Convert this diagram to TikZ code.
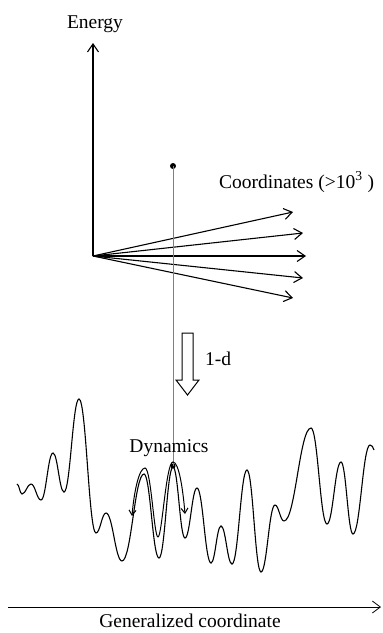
\documentclass[tikz,border=0pt]{standalone}
\usepackage{fontspec}
\setmainfont{Liberation Serif}
\usetikzlibrary{arrows.meta}
\begin{document}
\begin{tikzpicture}[x=1pt,y=-1pt,
  axisline/.style={line width=1.1pt,-{Straight Barb[length=8pt,width=11pt,line width=1.1pt]}},
  lbl/.style={inner sep=0pt,font=\fontsize{19.5}{23}\selectfont},
  dot/.style={circle,fill=black,inner sep=0pt,minimum size=6pt}]
\useasboundingbox (0,0) rectangle (383,633);
% axes
\coordinate (O) at (93,256);
\coordinate (Etip) at (93,43);
\draw[axisline] (O) -- (Etip);
\node[lbl,anchor=base] (energy) at (95,28) {Energy};
\coordinate (c1) at (293,212);
\coordinate (c2) at (303,233);
\coordinate (c3) at (306,256);
\coordinate (c4) at (303,278);
\coordinate (c5) at (293,298);
\foreach \c in {c1,c2,c3,c4,c5} \draw[axisline] (O) -- (\c);
\node[lbl,anchor=base west] (coords) at (219,188) {Coordinates (>10\textsuperscript{3} )};
% gray projection line
\node[dot] (top) at (173,166) {};
\node[dot,minimum size=5pt] (bot) at (173,466) {};
\draw[gray,line width=0.7pt] (top.center) -- (bot.center);
% hollow arrow
\draw[line width=1pt,fill=white] (182,333) -- (193,333) -- (193,380) -- (199,380) -- (187.5,395) -- (176,380) -- (182,380) -- cycle;
\node[lbl,anchor=base west] (oned) at (205,365) {1-d};
% landscape: extrema joined by cubic pieces with level tangents
\draw[line width=1.1pt] (17,484)
  \foreach [remember=\x as \px (initially 17), remember=\y as \py (initially 484)] \x/\y in {
   22/494, 31/484, 41/500, 53/453, 64/492, 79/399, 96/533, 106/513, 122/561,
   144/474, 159/558, 173/467, 185/538, 197/488, 211/563, 221/526, 232/564,
   247/470, 261/572, 275/505, 284/521, 311/428, 327/524, 341/462, 353/534,
   370/445}
  { .. controls ({\px+0.42*(\x-\px)},\py) and ({\x-0.42*(\x-\px)},\y) .. (\x,\y) }
  .. controls (372,445) and (373,447) .. (374,450);
% dynamics path
\draw[line width=1pt,{Straight Barb[length=5pt,width=7pt]}-{Straight Barb[length=5pt,width=7pt]}]
  (132,516) .. controls (134,492) and (139,468) .. (145,468)
  .. controls (151,468) and (154,537) .. (158,537)
  .. controls (162,537) and (166,462) .. (173,462)
  .. controls (179,462) and (183,490) .. (185,514);
\node[lbl,anchor=base] (dyn) at (169,452) {Dynamics};
% generalized coordinate axis
\coordinate (g0) at (8,607);
\coordinate (g1) at (381,607);
\draw[line width=0.8pt,-{Straight Barb[length=8pt,width=12pt,line width=0.8pt]}] (g0) -- (g1);
\node[lbl,anchor=base] (gen) at (190,627) {Generalized coordinate};
\end{tikzpicture}
\end{document}
